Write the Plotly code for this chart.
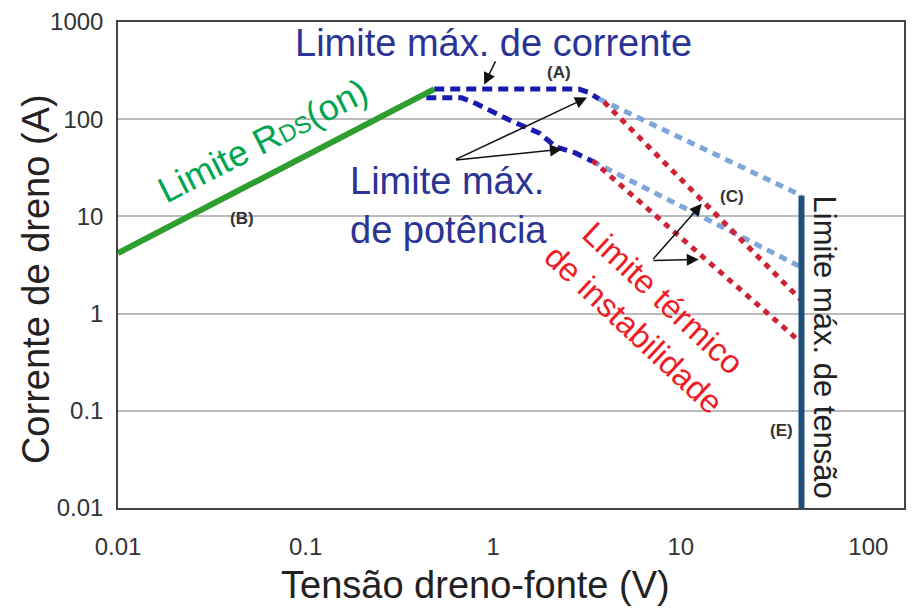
import plotly.graph_objects as go

# ---- data ----
rds_v = [0.01, 0.485]
rds_i = [4.2, 204]

cur_v = [0.485, 2.86, 3.2, 3.66]
cur_i = [204, 204, 190, 162]
cur_ext_v = [3.66, 44]
cur_ext_i = [162, 16.4]

pow_v = [0.44, 0.68, 0.81, 1.22, 1.76, 2.16, 2.76, 3.37]
pow_i = [166, 166, 145, 98, 72, 51.8, 44.7, 37]
pow_ext_v = [3.37, 44]
pow_ext_i = [37, 3.0]

therm1_v = [3.9, 44]
therm1_i = [150, 1.37]
therm2_v = [3.37, 44]
therm2_i = [37.8, 0.50]

vmax_v = [44, 44]
vmax_i = [0.01, 16.4]

x_ticks = [0.01, 0.1, 1, 10, 100]
x_ticklabels = ["0.01", "0.1", "1", "10", "100"]
y_ticks = [0.01, 0.1, 1, 10, 100, 1000]
y_ticklabels = ["0.01", "0.1", "1", "10", "100", "1000"]

FONT = "Arial, Liberation Sans, sans-serif"
BLUE_TXT = "#2b3494"
RED_TXT = "#ee1c25"
GREEN_TXT = "#00a550"

fig = go.Figure()

fig.add_trace(go.Scatter(x=pow_ext_v, y=pow_ext_i, mode="lines",
                         line=dict(color="#7fa6d8", width=5, dash="8px,6px")))
fig.add_trace(go.Scatter(x=cur_ext_v, y=cur_ext_i, mode="lines",
                         line=dict(color="#7fa6d8", width=5, dash="8px,6px")))
fig.add_trace(go.Scatter(x=therm1_v, y=therm1_i, mode="lines",
                         line=dict(color="#cc2233", width=5, dash="6px,6px")))
fig.add_trace(go.Scatter(x=therm2_v, y=therm2_i, mode="lines",
                         line=dict(color="#cc2233", width=5, dash="6px,6px")))
fig.add_trace(go.Scatter(x=pow_v, y=pow_i, mode="lines",
                         line=dict(color="#1a1ab0", width=5, dash="10px,6px")))
fig.add_trace(go.Scatter(x=cur_v, y=cur_i, mode="lines",
                         line=dict(color="#1a1ab0", width=5, dash="10px,6px")))
fig.add_trace(go.Scatter(x=rds_v, y=rds_i, mode="lines",
                         line=dict(color="#2e9e2e", width=6)))
fig.add_trace(go.Scatter(x=vmax_v, y=vmax_i, mode="lines",
                         line=dict(color="#1f4e79", width=6)))

ann = []


def txt(x, y, text, size, color, angle=0, bold=False, align="center"):
    ann.append(dict(x=x, y=y, xref="x", yref="y", text=("<b>%s</b>" % text) if bold else text,
                    showarrow=False, textangle=angle, align=align,
                    xanchor="center", yanchor="middle",
                    font=dict(family=FONT, size=size, color=color)))


def arrow(x0, y0, x1, y1):
    ann.append(dict(x=x1, y=y1, ax=x0, ay=y0, xref="x", yref="y", axref="x", ayref="y",
                    text="", showarrow=True, arrowhead=2, arrowsize=1.6, arrowwidth=1.5,
                    arrowcolor="#111"))


txt(0.0, 2.785, "Limite máx. de corrente", 38, BLUE_TXT)
txt(0.351, 2.479, "(A)", 17, "#333", bold=True)
txt(-1.229, 1.783, "Limite R<span style='font-size:24px'>DS</span>(on)", 36, GREEN_TXT, angle=-27)
txt(-1.34, 0.975, "(B)", 17, "#333", bold=True)
txt(-0.239, 1.108, "Limite máx.<br>de potência", 38, BLUE_TXT, align="left")
txt(1.271, 1.2, "(C)", 17, "#333", bold=True)
txt(0.83, 0.0, "Limite térmico<br>de instabilidade", 33, RED_TXT, angle=43)
txt(1.766, -0.344, "Limite máx. de tensão", 31, "#222", angle=90)
txt(1.537, -1.20, "(E)", 17, "#333", bold=True)

arrow(-0.207, 1.579, 0.5, 2.223)
arrow(-0.207, 1.579, 0.367, 1.691)
arrow(0.016, 2.611, -0.048, 2.356)
arrow(0.846, 0.546, 1.112, 1.129)
arrow(0.846, 0.546, 1.096, 0.556)

# axis titles (placed as paper annotations to match the reference position)
ann.append(dict(x=-0.105, y=0.472, xref="paper", yref="paper", text="Corrente de dreno (A)",
                showarrow=False, textangle=-90, xanchor="center", yanchor="middle",
                font=dict(family=FONT, size=38, color="#222")))
ann.append(dict(x=0.455, y=-0.158, xref="paper", yref="paper", text="Tensão dreno-fonte (V)",
                showarrow=False, xanchor="center", yanchor="middle",
                font=dict(family=FONT, size=38, color="#222")))

fig.update_layout(
    width=914, height=609,
    margin=dict(l=118, r=8, t=19, b=101),
    paper_bgcolor="white", plot_bgcolor="white",
    showlegend=False,
    annotations=ann,
    font=dict(family=FONT, color="#333"),
    xaxis=dict(type="log", range=[-2, 2.19], tickvals=x_ticks, ticktext=x_ticklabels,
               showgrid=False, zeroline=False, showline=True, linecolor="#444", linewidth=1.5,
               mirror=True, ticks="", ticklabelstandoff=16,
               tickfont=dict(family=FONT, size=24, color="#333")),
    yaxis=dict(type="log", range=[-2, 3], tickvals=y_ticks, ticktext=y_ticklabels,
               showgrid=True, gridcolor="#bbbbbb", gridwidth=2, zeroline=False,
               showline=True, linecolor="#444", linewidth=1.5, mirror=True, ticks="",
               ticklabelstandoff=8,
               tickfont=dict(family=FONT, size=24, color="#333")),
)

fig.write_html("out.html")
